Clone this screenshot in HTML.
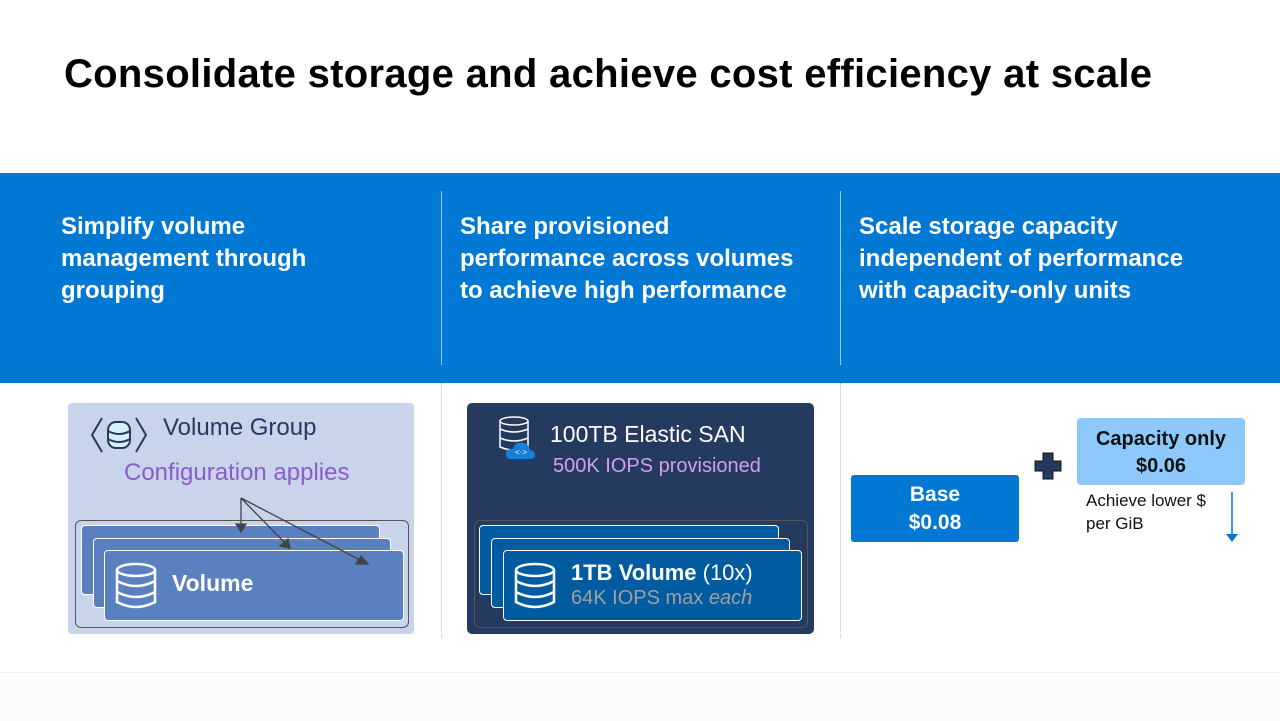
<!DOCTYPE html>
<html><head><style>
body{margin:0;width:1280px;height:720px;background:#fff;position:relative;overflow:hidden;font-family:"Liberation Sans",sans-serif}
.a{position:absolute}
.h{color:#fff;font-size:24px;line-height:32px;font-weight:bold}
.card{position:absolute;border:1px solid #fff;border-radius:4px;box-sizing:border-box}
</style></head><body>
<div class="a" style="left:0;top:672px;width:1280px;height:48px;background:#fcfcfc;border-top:1px solid #eee"></div>
<div class="a" style="left:64px;top:52px;font-size:40px;font-weight:bold;color:#000;letter-spacing:0.3px">Consolidate storage and achieve cost efficiency at scale</div>
<div class="a" style="left:0;top:173px;width:1280px;height:210px;background:#0078d4"></div>
<div class="a" style="left:441px;top:191px;width:1px;height:174px;background:#9cc8ee"></div>
<div class="a" style="left:840px;top:191px;width:1px;height:174px;background:#9cc8ee"></div>
<div class="a" style="left:441px;top:383px;height:255px;border-left:1px dotted #bbb"></div>
<div class="a" style="left:840px;top:383px;height:255px;border-left:1px dotted #bbb"></div>
<div class="a h" style="left:61px;top:211px">Simplify volume<br>management through<br>grouping</div>
<div class="a h" style="left:460px;top:211px">Share provisioned<br>performance across volumes<br>to achieve high performance</div>
<div class="a h" style="left:859px;top:211px">Scale storage capacity<br>independent of performance<br>with capacity-only units</div>

<!-- Volume group -->
<div class="a" style="left:68px;top:403px;width:346px;height:231px;background:#c8d4ea;border-radius:4px"></div>
<svg class="a" style="left:88px;top:414px" width="62" height="42"><path d="M14 4 L4 21 L14 38 M48 4 L58 21 L48 38" stroke="#243a5e" stroke-width="2" fill="none"/><g fill="#d7f0fb" stroke="#243a5e" stroke-width="2"><rect x="20" y="8" width="22" height="26" rx="8"/></g><path d="M20 17 Q31 23 42 17 M20 25 Q31 31 42 25" stroke="#243a5e" stroke-width="2" fill="none"/></svg>
<div class="a" style="left:163px;top:414px;font-size:24px;color:#243a5e">Volume Group</div>
<div class="a" style="left:124px;top:459px;font-size:24px;color:#8a5cc8">Configuration applies</div>
<div class="a" style="left:75px;top:520px;width:334px;height:108px;border:1px solid #555;border-radius:6px;box-sizing:border-box"></div>
<div class="card" style="left:81px;top:525px;width:299px;height:70px;background:#5a80c0"></div>
<div class="card" style="left:93px;top:538px;width:298px;height:70px;background:#5a80c0"></div>
<div class="card" style="left:104px;top:550px;width:300px;height:71px;background:#5a80c0"></div>
<svg class="a" style="left:112px;top:560px" width="50" height="52"><g stroke="#fff" stroke-width="2.5" fill="none"><ellipse cx="24" cy="10" rx="19" ry="6"/><path d="M5 10 V42 Q24 52 43 42 V10 M5 21 Q24 31 43 21 M5 32 Q24 42 43 32"/></g></svg>
<div class="a" style="left:172px;top:570px;font-size:23px;color:#fff;font-weight:bold">Volume</div>
<svg class="a" style="left:0;top:0" width="420" height="640"><g stroke="#444" stroke-width="1.3" fill="#444"><line x1="241" y1="498" x2="241" y2="526"/><line x1="241" y1="498" x2="285" y2="543"/><line x1="241" y1="498" x2="360" y2="560"/><path d="M236 524 L246 524 L241 532 Z"/><path d="M280 546 L288 539 L290 548 Z"/><path d="M356 564 L361 556 L368 564 Z"/></g></svg>

<!-- Elastic SAN -->
<div class="a" style="left:467px;top:403px;width:347px;height:231px;background:#243a5e;border-radius:5px"></div>
<svg class="a" style="left:497px;top:415px" width="48" height="48"><g stroke="#fff" stroke-width="1.5" fill="none"><ellipse cx="17" cy="6" rx="14" ry="4"/><path d="M3 6 V32 Q17 38 31 32 V6 M3 14 Q17 20 31 14 M3 23 Q17 29 31 23"/></g><path d="M14 44 Q8 44 9 38 Q10 33 16 34 Q18 26 27 28 Q33 30 33 35 Q39 36 38 41 Q37 44 33 44 Z" fill="#1a7fd8"/><text x="18" y="40" font-size="8" fill="#fff">&lt;·&gt;</text></svg>
<div class="a" style="left:550px;top:421px;font-size:23px;color:#fff">100TB Elastic SAN</div>
<div class="a" style="left:553px;top:455px;font-size:20px;color:#d39ef5">500K IOPS provisioned</div>
<div class="a" style="left:474px;top:520px;width:334px;height:108px;border:1px solid #555;border-radius:6px;box-sizing:border-box"></div>
<div class="card" style="left:479px;top:525px;width:300px;height:70px;background:#005ba1"></div>
<div class="card" style="left:491px;top:538px;width:299px;height:70px;background:#005ba1"></div>
<div class="card" style="left:503px;top:550px;width:299px;height:71px;background:#005ba1"></div>
<svg class="a" style="left:511px;top:560px" width="50" height="52"><g stroke="#fff" stroke-width="2.5" fill="none"><ellipse cx="24" cy="10" rx="19" ry="6"/><path d="M5 10 V42 Q24 52 43 42 V10 M5 21 Q24 31 43 21 M5 32 Q24 42 43 32"/></g></svg>
<div class="a" style="left:571px;top:560px;font-size:22px;color:#fff;font-weight:bold">1TB Volume <span style="font-weight:normal">(10x)</span></div>
<div class="a" style="left:571px;top:587px;font-size:20px;color:#a0a0a0">64K IOPS max <i>each</i></div>

<!-- Pricing -->
<div class="a" style="left:851px;top:475px;width:168px;height:67px;background:#0078d4;border-radius:3px;color:#fff;font-size:21px;font-weight:bold;text-align:center;line-height:28px;padding-top:6px;box-sizing:border-box">Base<br>$0.08</div>
<div class="a" style="left:1077px;top:418px;width:168px;height:67px;background:#8cc8fb;border-radius:4px;color:#111;font-size:20px;font-weight:bold;text-align:center;line-height:27px;padding-top:8px;box-sizing:border-box">Capacity only<br>$0.06</div>
<svg class="a" style="left:1034px;top:452px" width="28" height="28"><path d="M9 1 H19 V9 H27 V19 H19 V27 H9 V19 H1 V9 H9 Z" fill="#243a5e" stroke="#111"/></svg>
<div class="a" style="left:1086px;top:489px;font-size:17px;color:#111;line-height:23px">Achieve lower $<br>per GiB</div>
<svg class="a" style="left:1224px;top:492px" width="16" height="52"><line x1="8" y1="0" x2="8" y2="44" stroke="#0078d4" stroke-width="1.5"/><path d="M2 42 L14 42 L8 50 Z" fill="#0078d4"/></svg>
</body></html>
